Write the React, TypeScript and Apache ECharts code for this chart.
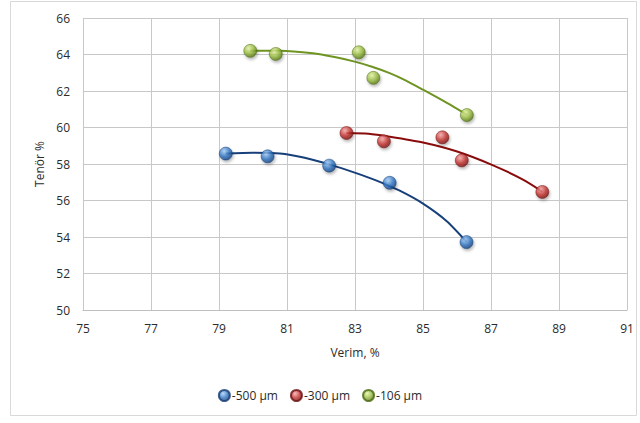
import React, { useEffect, useRef } from "react";
import * as echarts from "echarts";

const seriesNames = ["-500 µm", "-300 µm", "-106 µm"];

const x500 = [79.2, 80.43, 82.24, 84.02, 86.28];
const y500 = [58.57, 58.42, 57.91, 56.97, 53.72];
const x300 = [82.75, 83.85, 85.57, 86.14, 88.51];
const y300 = [59.7, 59.24, 59.46, 58.2, 56.47];
const x106 = [79.92, 80.67, 83.11, 83.54, 86.29];
const y106 = [64.2, 64.03, 64.12, 62.72, 60.68];

// trend curves
const tx500 = [79.2, 80.0, 80.79, 81.52, 82.24, 82.99, 83.6, 84.3, 85.0, 85.69, 86.28];
const ty500 = [58.57, 58.62, 58.58, 58.34, 57.98, 57.53, 57.12, 56.55, 55.83, 54.88, 53.74];
const tx300 = [82.75, 83.4, 84.02, 85.0, 85.98, 87.01, 87.94, 88.51];
const ty300 = [59.7, 59.66, 59.5, 59.18, 58.7, 57.97, 57.15, 56.49];
const tx106 = [79.92, 80.79, 81.76, 82.4, 82.99, 83.5, 84.02, 84.5, 85.0, 85.69, 86.29];
const ty106 = [64.21, 64.21, 64.07, 63.86, 63.61, 63.33, 62.98, 62.57, 62.07, 61.36, 60.7];

const xTicks = [75, 77, 79, 81, 83, 85, 87, 89, 91];
const yTicks = [50, 52, 54, 56, 58, 60, 62, 64, 66];

const markerColors = [
  ["#a6d0f7", "#2f72c0", "#143a72"],
  ["#f7a8a8", "#c0302c", "#6a0f0f"],
  ["#e6f5a8", "#93b83a", "#4b6814"],
];
const lineColors = ["#17407a", "#8a0b0b", "#6f9422"];

const zip = (a: number[], b: number[]) => a.map((v, i) => [v, b[i]]);

export default function App() {
  const ref = useRef<HTMLDivElement>(null);
  useEffect(() => {
    if (!ref.current) return;
    const chart = echarts.init(ref.current, undefined, { renderer: "svg" });
    const grad = (c: string[]) =>
      new echarts.graphic.RadialGradient(0.38, 0.32, 0.75, [
        { offset: 0, color: c[0] },
        { offset: 0.55, color: c[1] },
        { offset: 1, color: c[2] },
      ]);
    const scatters = [zip(x500, y500), zip(x300, y300), zip(x106, y106)];
    const trends = [zip(tx500, ty500), zip(tx300, ty300), zip(tx106, ty106)];
    const series: any[] = [];
    for (let i = 0; i < 3; i++) {
      series.push({
        name: seriesNames[i] + " trend",
        type: "line",
        data: trends[i],
        smooth: 0.25,
        showSymbol: false,
        symbol: "none",
        lineStyle: { color: lineColors[i], width: 2 },
        z: 2,
      });
    }
    for (let i = 0; i < 3; i++) {
      series.push({
        name: seriesNames[i],
        type: "scatter",
        data: scatters[i],
        symbol: "circle",
        symbolSize: 13,
        itemStyle: {
          color: grad(markerColors[i]),
          borderColor: markerColors[i][2],
          borderWidth: 0.6,
          shadowColor: "rgba(0,0,0,0.35)",
          shadowBlur: 3,
          shadowOffsetX: 1,
          shadowOffsetY: 2,
        },
        z: 3,
      });
    }
    chart.setOption({
      animation: false,
      backgroundColor: "#fff",
      textStyle: { fontFamily: "Open Sans", color: "#2b2b2b" },
      graphic: [
        {
          type: "rect",
          shape: { x: 10.5, y: 1.5, width: 626, height: 414 },
          style: { fill: "none", stroke: "#d9d9d9", lineWidth: 1 },
          silent: true,
        },
      ],
      grid: { left: 83, right: 13, top: 18, bottom: 113 },
      xAxis: {
        type: "value",
        min: xTicks[0],
        max: xTicks[xTicks.length - 1],
        interval: 2,
        name: "Verim, %",
        nameLocation: "middle",
        nameGap: 36,
        nameTextStyle: { fontSize: 12, color: "#2b2b2b", fontFamily: "Open Sans" },
        axisLine: { show: true, lineStyle: { color: "#bfbfbf" } },
        axisTick: { show: false },
        axisLabel: { fontSize: 12, color: "#2b2b2b", margin: 12 },
        splitLine: { show: true, lineStyle: { color: "#c8c8c8", width: 1 } },
      },
      yAxis: {
        type: "value",
        min: yTicks[0],
        max: yTicks[yTicks.length - 1],
        interval: 2,
        name: "Tenör %",
        nameLocation: "middle",
        nameGap: 38,
        nameTextStyle: { fontSize: 12, color: "#2b2b2b", fontFamily: "Open Sans" },
        axisLine: { show: false },
        axisTick: { show: false },
        axisLabel: { fontSize: 12, color: "#2b2b2b", margin: 13 },
        splitLine: { show: true, lineStyle: { color: "#c8c8c8", width: 1 } },
      },
      legend: {
        data: seriesNames,
        bottom: 16,
        left: "center",
        icon: "circle",
        itemWidth: 11,
        itemHeight: 11,
        itemGap: 12,
        textStyle: { fontSize: 12, color: "#2b2b2b", padding: [0, 0, 0, -3] },
      },
      series,
    });
    return () => chart.dispose();
  }, []);
  return (
    <div
      ref={ref}
      style={{ position: "fixed", left: 0, top: 0, width: 640, height: 423 }}
    />
  );
}
